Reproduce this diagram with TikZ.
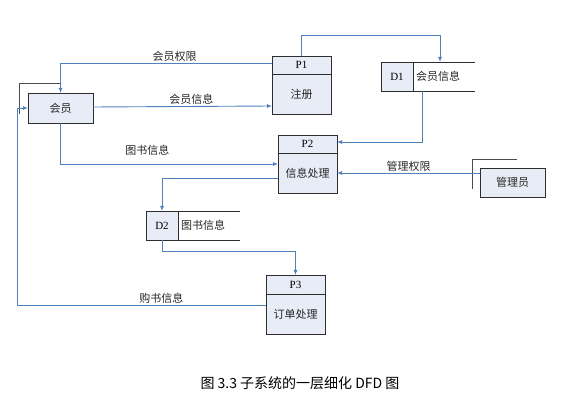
\documentclass[tikz,border=0pt]{standalone}
\usepackage{fontspec}
\setmainfont{Liberation Serif}
\newfontfamily\cjk{Noto Sans CJK SC}
\usetikzlibrary{arrows.meta,positioning}
\definecolor{flowblue}{HTML}{4F81BD}
\definecolor{boxfill}{HTML}{E8ECF6}
\definecolor{edgegray}{HTML}{2E2E2E}

\begin{document}
\begin{tikzpicture}[x=1pt, y=-1pt,
    txt/.style={font=\cjk\fontsize{11}{13}\selectfont, text=black!85},
    entity/.style={rectangle, draw=edgegray, line width=0.9pt, fill=boxfill,
                   minimum width=65pt, minimum height=30pt, outer sep=0pt, txt},
    prochead/.style={rectangle, draw=edgegray, line width=0.9pt, fill=boxfill,
                     minimum width=59pt, minimum height=18pt, outer sep=0pt,
                     inner sep=0pt, font=\fontsize{11}{13}\selectfont},
    procbody/.style={rectangle, draw=edgegray, line width=0.9pt, fill=boxfill,
                     minimum width=59pt, minimum height=40pt, outer sep=0pt,
                     inner sep=0pt, txt},
    storebox/.style={rectangle, draw=edgegray, line width=0.9pt, fill=boxfill,
                     minimum width=32pt, minimum height=29pt, outer sep=0pt,
                     inner sep=0pt, font=\fontsize{11}{13}\selectfont},
    storeline/.style={edgegray, line width=0.9pt},
    shadeline/.style={black!70, line width=1pt},
    flow/.style={draw=flowblue, line width=0.9pt,
                 -{Latex[length=5pt,width=4pt]}},
    lbl/.style={txt, inner sep=1.5pt}]

\useasboundingbox (0,0) rectangle (566,401);

% external entities
\node[entity] (member) at (60.5,108) {会员};
\draw[shadeline] ([yshift=9pt]member.north) -| ([xshift=-9pt,yshift=9pt]member.south west);
\node[entity, minimum height=29pt] (admin) at (512.5,182.5) {管理员};
\draw[shadeline] ([xshift=4pt,yshift=8pt]admin.north) -| ([xshift=-8pt,yshift=8pt]admin.south west);

% processes
\node[prochead] (p1h) at (301.5,65) {P1};
\node[procbody, below=0pt of p1h] (p1) {注册};
\node[prochead] (p2h) at (307.5,144) {P2};
\node[procbody, below=0pt of p2h] (p2) {信息处理};
\node[prochead, minimum height=19pt] (p3h) at (295.5,284.5) {P3};
\node[procbody, below=0pt of p3h] (p3) {订单处理};

% data stores
\node[storebox] (d1) at (397,76.5) {D1};
\node[txt, anchor=west, inner sep=0pt] (d1t) at ([xshift=3pt]d1.east) {会员信息};
\draw[storeline] (d1.north west) -- ++(94,0);
\draw[storeline] (d1.south west) -- ++(94,0);
\node[storebox] (d2) at (162,225.5) {D2};
\node[txt, anchor=west, inner sep=0pt] (d2t) at ([xshift=3pt]d2.east) {图书信息};
\draw[storeline] (d2.north west) -- ++(94,0);
\draw[storeline] (d2.south west) -- ++(94,0);
\coordinate (d1in) at ([xshift=27pt]d1.north east);
\coordinate (d1out) at ([xshift=9pt]d1.south east);

% data flows
\draw[flow] ([yshift=2pt]p1h.west) -| node[lbl, pos=0.23, above] {会员权限} (member.north);
\draw[flow] ([yshift=1pt]member.east) -- node[lbl, pos=0.55, above] {会员信息} ([yshift=-12pt]p1.west);
\draw[flow] (member.south) |- node[lbl, pos=0.7, above, inner sep=8pt] {图书信息} ([yshift=9pt]p2.west);
\draw[flow] (p1h.north) -- ++(0,-21) -| (d1in);
\draw[flow] (d1out) |- ([yshift=2pt]p2h.east);
\draw[flow] (admin.west |- p2.east) -- node[lbl, above, inner sep=0.8pt] {管理权限} (p2.east);
\draw[flow] ([yshift=-5pt]p2.west) -| (d2.north);
\draw[flow] (d2.south) -- ++(0,11) -| (p3h.north);
\draw[flow] ([yshift=9pt]p3.west) -| node[lbl, pos=0.21, above] {购书信息} ([xshift=-11pt]member.west) -- (member.west);

% caption
\node[font=\cjk\fontsize{14}{16}\selectfont] (cap) at (300,383) {图 3.3 子系统的一层细化 DFD 图};
\end{tikzpicture}
\end{document}
